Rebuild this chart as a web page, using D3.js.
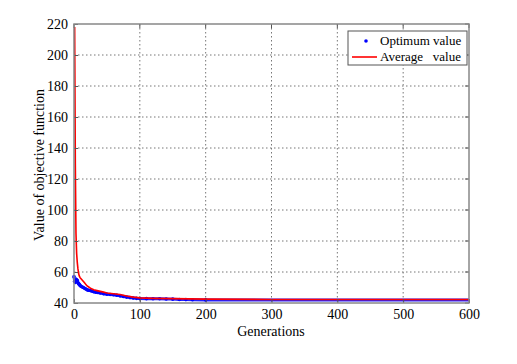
<!DOCTYPE html>
<html><head><meta charset="utf-8">
<script src="https://cdn.jsdelivr.net/npm/d3@7/dist/d3.min.js"></script>
<style>body{margin:0;background:#fff;}svg{display:block;}</style>
</head><body>
<script>
const xTicks = [0,100,200,300,400,500,600];
const yTicks = [40,60,80,100,120,140,160,180,200,220];
const optGen = [0,1,2,3,4,5,6,7,8,9,10,12,14,16,18,20,22,25,28,30,33,36,40,45,50,55,60,65,70,75,80,85,90,95,100,110,120,130,140,150,160,170,180,200,300,400,500,600];
const optVal = [57,54,53.5,54,55,54.5,53,52.5,52,51.5,51,50.5,50,49.5,49,48.5,48.2,48,47.6,47.3,47,46.8,46.5,46,45.7,45.5,45.3,45,44.6,44.2,43.8,43.5,43.2,43,42.9,42.8,42.7,42.7,42.6,42.5,42.3,42.2,42.1,42,42,42,42,42];
const avgGen = [1,2,3,4,5,6,7,8,9,10,12,14,16,18,20,25,30,35,40,45,50,60,70,80,90,100,120,150,200,300,400,500,600];
const avgVal = [218,130,85,72,66,62,59,57.5,56.5,56,55,54,53,52,51,49.5,48.5,48,47.5,47,46.5,46,45.5,44.5,43.8,43.3,43,42.8,42.5,42.3,42.3,42.3,42.3];

const W=517,H=364, L=74,R=469,T=24,B=303;
const FF='"Liberation Serif","Times New Roman",serif';
const svg=d3.select("body").append("svg").attr("width",W).attr("height",H);
const x=d3.scaleLinear().domain([0,600]).range([L,R]);
const y=d3.scaleLinear().domain([40,220]).range([B,T]);

// grid
const g=svg.append("g");
g.selectAll(".gx").data(xTicks.slice(1,-1)).join("line")
 .attr("x1",d=>x(d)).attr("x2",d=>x(d)).attr("y1",T).attr("y2",B)
 .attr("stroke","#777").attr("stroke-width",1).attr("stroke-dasharray","1.5,2.5");
g.selectAll(".gy").data(yTicks.slice(1,-1)).join("line")
 .attr("y1",d=>y(d)).attr("y2",d=>y(d)).attr("x1",L).attr("x2",R)
 .attr("stroke","#777").attr("stroke-width",1).attr("stroke-dasharray","1.5,2.5");

// series
const opt=optGen.map((d,i)=>[d,optVal[i]]);
const avg=avgGen.map((d,i)=>[d,avgVal[i]]);
const line=d3.line().x(d=>x(d[0])).y(d=>y(d[1]));
svg.append("path").datum(opt).attr("d",line).attr("fill","none").attr("stroke","#2020ff").attr("stroke-width",3);
svg.selectAll(".od").data(opt.filter(d=>d[0]<=200)).join("circle")
 .attr("cx",d=>x(d[0])).attr("cy",d=>y(d[1])).attr("r",1.8).attr("fill","#0000ff");
svg.append("path").datum(avg).attr("d",line).attr("fill","none").attr("stroke","#ff0000").attr("stroke-width",1.6);

// axes
const xa=svg.append("g").attr("transform",`translate(0,${B})`)
 .call(d3.axisBottom(x).tickValues(xTicks).tickSize(-4).tickPadding(6).tickFormat(d3.format("d")));
const ya=svg.append("g").attr("transform",`translate(${L},0)`)
 .call(d3.axisLeft(y).tickValues(yTicks).tickSize(-4).tickPadding(6).tickFormat(d3.format("d")));
[xa,ya].forEach(a=>{a.attr("font-family",FF);a.select(".domain").remove();a.selectAll("line").attr("stroke","#555");
 a.selectAll("text").attr("font-size",14).attr("fill","#000").style("font-family",FF);});
svg.selectAll(".tt").data(xTicks).join("line").attr("x1",d=>x(d)).attr("x2",d=>x(d)).attr("y1",T).attr("y2",T+4).attr("stroke","#555");
svg.selectAll(".rt").data(yTicks).join("line").attr("y1",d=>y(d)).attr("y2",d=>y(d)).attr("x1",R).attr("x2",R-4).attr("stroke","#555");
svg.append("rect").attr("x",L).attr("y",T).attr("width",R-L).attr("height",B-T).attr("fill","none").attr("stroke","#888").attr("stroke-width",1.5);

// labels
svg.append("text").attr("x",271).attr("y",336).attr("text-anchor","middle").attr("font-size",14).style("font-family",FF).text("Generations");
svg.append("text").attr("transform",`translate(44,165) rotate(-90)`).attr("text-anchor","middle").attr("font-size",14).style("font-family",FF).text("Value of objective function");

// legend
const lg=svg.append("g");
lg.append("rect").attr("x",348).attr("y",31).attr("width",119).attr("height",34).attr("fill","#fff").attr("stroke","#555").attr("stroke-width",1);
lg.append("circle").attr("cx",366).attr("cy",41).attr("r",1.8).attr("fill","#0000ff");
lg.append("line").attr("x1",352).attr("x2",377).attr("y1",57).attr("y2",57).attr("stroke","#ff0000").attr("stroke-width",1.6);
lg.append("text").attr("x",380).attr("y",45).attr("font-size",13).style("font-family",FF).text("Optimum value");
lg.append("text").attr("x",380).attr("y",61).attr("font-size",13).style("font-family",FF).style("white-space","pre").text("Average   value");
</script>
</body></html>
